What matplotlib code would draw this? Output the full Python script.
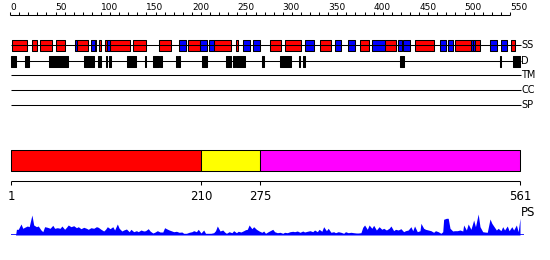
import matplotlib
matplotlib.use("Agg")
import matplotlib.pyplot as plt

seq_len = 561

# secondary structure: helices (red) and strands (blue), residue ranges
helix = [(2, 19), (24, 30), (33, 46), (51, 60), (74, 86), (93, 94), (98, 100),
         (104, 107), (110, 132), (135, 149), (164, 177), (196, 209), (224, 243),
         (248, 251), (286, 298), (303, 320), (341, 353), (385, 395), (412, 425),
         (446, 466), (489, 507), (511, 517), (551, 556)]
strand = [(71, 74), (89, 93), (107, 110), (186, 193), (209, 217), (219, 224),
          (256, 264), (267, 275), (325, 334), (358, 364), (372, 380), (398, 412),
          (427, 431), (432, 440), (473, 480), (482, 487), (507, 509), (509, 511),
          (528, 536), (540, 547)]

# disordered regions
disorder = [(1, 7), (16, 21), (43, 64), (81, 92), (97, 100), (105, 107), (109, 111),
            (129, 139), (148, 150), (157, 164), (165, 167), (182, 184), (185, 187),
            (211, 217), (237, 243), (245, 247), (248, 258), (277, 279), (297, 309),
            (318, 319), (322, 324), (429, 433), (539, 540), (553, 561)]

# domain boundaries
dom_bounds = [1, 210, 275, 561]
dom_colors = ["#ff0000", "#ffff00", "#ff00ff"]

other_tracks = ["TM", "CC", "SP"]

# PS profile
ps_pos = [1, 6, 7, 9, 12, 14, 16, 19, 21, 24, 26, 29, 31, 34, 36, 38, 41, 44, 47, 49,
          52, 55, 57, 60, 62, 64, 67, 70, 73, 75, 78, 81, 84, 86, 89, 92, 95, 97, 100,
          103, 105, 107, 110, 113, 115, 118, 120, 123, 125, 128, 131, 133, 136, 139,
          141, 144, 147, 149, 152, 154, 157, 159, 162, 165, 168, 170, 172, 175, 178,
          180, 183, 186, 189, 191, 194, 197, 200, 202, 205, 207, 210, 213, 215, 218,
          221, 224, 226, 228, 231, 234, 236, 238, 241, 244, 246, 249, 251, 254, 257,
          259, 261, 263, 266, 268, 271, 274, 277, 279, 281, 284,
          289, 291, 294, 297, 300, 302, 305, 308, 311, 313, 316, 319, 322, 324, 327,
          330, 333, 335, 338, 340, 343, 345, 348, 350, 353, 356, 358, 361, 364, 367,
          369, 372, 375, 378, 381, 383, 386, 388, 390, 393, 395, 398, 400, 403, 406,
          409, 411, 414, 417, 419, 422, 424, 427, 430, 433, 435, 438, 441, 443, 445,
          448, 451, 452, 455, 457, 460, 463, 466, 468, 471, 474, 476, 477, 480, 482,
          484, 487, 489, 492, 495, 498, 499, 502, 504, 507, 509, 510, 512, 515, 517,
          520, 522, 525, 528, 530, 532, 535, 537, 540, 542, 544, 547, 549, 552, 554,
          557, 559, 561]
ps_val = [0, 0, 5.7, 5.7, 11, 6.7, 7.7, 9, 8.3, 20, 10, 8.3, 9, 5, 3.3, 8.3, 7.7, 6.7, 9.7, 6.7,
          7.3, 6.7, 9, 5.7, 7.7, 10, 8.3, 9.3, 7.3, 8.3, 6.3, 7.7, 6.7, 5.7, 7.3, 6.7, 8.3, 7.7, 5.7,
          4, 5.7, 8.3, 6.3, 8.3, 5, 11, 6.7, 4, 5, 6, 3.3, 5.7, 3.3, 4.3,
          3.3, 5, 4, 4.3, 6.3, 4, 2, 2.7, 4.3, 3, 3, 7.3, 6.3, 5, 4,
          3.3, 3.7, 2.7, 3, 1.7, 1.7, 2.7, 3.3, 4.3, 3.3, 5.7, 2, 5, 1.7, 1.7,
          1.7, 2.3, 4.3, 9, 4, 5, 3, 1.7, 3.3, 2.3, 4.3, 2.3, 3.7, 3, 4.3,
          5.3, 5.7, 10, 6.3, 8.3, 5.7, 4, 2.7, 4, 1.7, 3.3,
          5.7, 3.3, 2.3, 2.7, 1.7, 2.7, 2.3, 3.3, 3.7, 3.3, 4, 2.7, 4, 3, 3.7,
          4.3, 3.3, 5, 3.3, 5.7, 3.7, 8.3, 4.3, 6.7, 2.7, 3.3, 2.3, 3.3, 2.7, 1.7,
          3.3, 2.3, 2.7, 2.3, 2, 2, 2.3, 7.7, 10, 5.7, 10, 6.7, 9.7, 5, 8.3,
          5.7, 6.7, 5, 6.7, 9, 4.3, 5.7, 5, 6.3, 3.3, 4.3, 5, 8.3, 4.3, 9,
          3.3, 4.3, 11.7, 6.7, 5.7, 5, 4.3, 2.7, 4.3, 3.3, 1.7, 3.3, 15.7, 16.7, 16.7,
          6.7, 4, 4.3, 4.3, 5, 4, 10, 5, 11, 5.7, 11.7, 15, 8.3, 21, 8.3,
          3.3, 3, 2.7, 16, 11.7, 9, 5, 6.7, 4.3, 8.3, 5, 9, 4.3, 8.3, 5,
          10, 3.3, 16.7]

# pixel layout -> residue x mapping
k = 509 / 560
x_left = 1 - 11 / k
x_right = 1 + 539 / k

lw = 0.75

fig = plt.figure(figsize=(5.5, 2.6), dpi=100)
ax = fig.add_axes([0, 0, 1, 1])
ax.set_xlim(x_left, x_right)
ax.set_ylim(260, 0)
ax.axis("off")

# ruler
ax.hlines(15, 0, 550, color="black", lw=lw)
ax.vlines(range(0, 551, 10), 12, 15, color="black", lw=lw)
for t in range(0, 551, 50):
    ax.text(t, 10.5, str(t), fontsize=6.5, ha="left", va="baseline")

line_end = seq_len + 1
lab_x = seq_len + 1.5

# SS track
ax.hlines(45, 1, line_end, color="black", lw=lw)
ax.broken_barh([(a, b - a) for a, b in helix], (40, 10.5),
               facecolor="#ff0000", edgecolor="black", lw=lw)
ax.broken_barh([(a, b - a) for a, b in strand], (40, 10.5),
               facecolor="#0000ff", edgecolor="black", lw=lw)
ax.text(lab_x, 45, "SS", fontsize=7, ha="left", va="center")

# disorder track
ax.hlines(61, 1, line_end, color="black", lw=lw)
ax.broken_barh([(a, b - a) for a, b in disorder], (55.5, 11),
               facecolor="black", edgecolor="black", lw=lw)
ax.text(lab_x, 61, "D", fontsize=7, ha="left", va="center")

for i, name in enumerate(other_tracks):
    y = 75 + 15 * i
    ax.hlines(y, 1, line_end, color="black", lw=lw)
    ax.text(lab_x, y, name, fontsize=7, ha="left", va="center")

# domains
for i, c in enumerate(dom_colors):
    ax.broken_barh([(dom_bounds[i], dom_bounds[i + 1] - dom_bounds[i])], (150, 20.5),
                   facecolor=c, edgecolor="black", lw=lw)
ax.hlines(181, 1, seq_len, color="black", lw=lw)
ax.vlines(dom_bounds, 181, 184.5, color="black", lw=lw)
for b in dom_bounds:
    ax.text(b, 196, str(b), fontsize=8.5, ha="center", va="center")

# PS track
ax_ps = fig.add_axes([0, 25 / 260, 1, 21 / 260])
ax_ps.set_xlim(x_left, x_right)
ax_ps.set_ylim(0, 21)
ax_ps.axis("off")
ax_ps.fill_between(ps_pos, 0, ps_val, color="#0000ff", lw=0)
ax_ps.hlines(0, 1, seq_len + 4, color="#0000ff", lw=1.2)
ax.text(lab_x, 212, "PS", fontsize=8.5, ha="left", va="center")

fig.savefig("out.png", dpi=100)
